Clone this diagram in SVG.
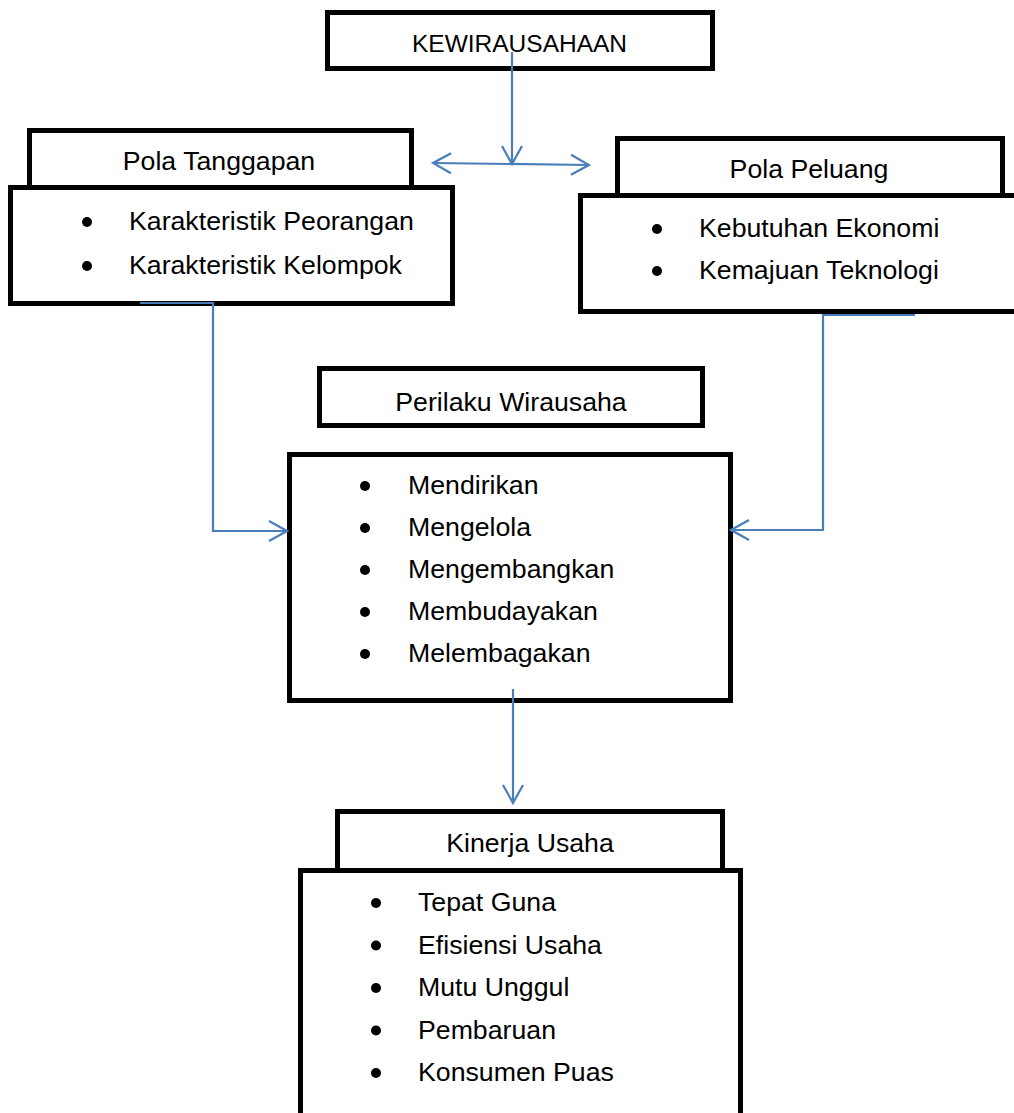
<svg xmlns="http://www.w3.org/2000/svg" width="1014" height="1113" viewBox="0 0 1014 1113">
<style>
.box{fill:#fff;stroke:#000;stroke-width:5}
.t{font-family:"Liberation Sans",Arial,sans-serif;font-size:26.7px;fill:#000}
.title{text-anchor:middle}
.caps{font-size:24.5px}
.b{fill:#000}
.c{fill:none;stroke:#4A7EBB;stroke-width:2.2}
</style>
<defs>
<marker id="arr" markerUnits="userSpaceOnUse" viewBox="-20 -12 22 24" refX="0" refY="0" markerWidth="22" markerHeight="24" orient="auto-start-reverse">
<path d="M-18,-10 L0,0 L-18,10" fill="none" stroke="#4A7EBB" stroke-width="2.2"/>
</marker>
</defs>
<rect width="1014" height="1113" fill="#fff"/>
<g id="kewirausahaan">
<rect class="box" x="327.5" y="12.5" width="385" height="56"/>
<text class="t title caps" x="519.5" y="52">KEWIRAUSAHAAN</text>
</g>
<g id="pola-tanggapan">
<rect class="box" x="29.5" y="130.5" width="382" height="70"/>
<text class="t title" x="219" y="170">Pola Tanggapan</text>
<rect class="box" x="10.5" y="187.5" width="442" height="116"/>
<circle class="b" cx="87" cy="222" r="5"/>
<text class="t" x="129" y="230">Karakteristik Peorangan</text>
<circle class="b" cx="87" cy="266" r="5"/>
<text class="t" x="129" y="274">Karakteristik Kelompok</text>
</g>
<g id="pola-peluang">
<rect class="box" x="617.5" y="138.5" width="385" height="70"/>
<text class="t title" x="809" y="178">Pola Peluang</text>
<rect class="box" x="580.5" y="195.5" width="440" height="116"/>
<circle class="b" cx="657" cy="229" r="5"/>
<text class="t" x="699" y="237">Kebutuhan Ekonomi</text>
<circle class="b" cx="657" cy="271" r="5"/>
<text class="t" x="699" y="279">Kemajuan Teknologi</text>
</g>
<g id="perilaku-wirausaha">
<rect class="box" x="319.5" y="368.5" width="383" height="57"/>
<text class="t title" x="511" y="411">Perilaku Wirausaha</text>
</g>
<g id="perilaku-list">
<rect class="box" x="289.5" y="454.5" width="441" height="246"/>
<circle class="b" cx="365" cy="486" r="5"/>
<text class="t" x="408" y="494">Mendirikan</text>
<circle class="b" cx="365" cy="528" r="5"/>
<text class="t" x="408" y="536">Mengelola</text>
<circle class="b" cx="365" cy="570" r="5"/>
<text class="t" x="408" y="578">Mengembangkan</text>
<circle class="b" cx="365" cy="612" r="5"/>
<text class="t" x="408" y="620">Membudayakan</text>
<circle class="b" cx="365" cy="654" r="5"/>
<text class="t" x="408" y="662">Melembagakan</text>
</g>
<g id="kinerja-usaha">
<rect class="box" x="337.5" y="811.5" width="385" height="70"/>
<text class="t title" x="530" y="852">Kinerja Usaha</text>
<rect class="box" x="300.5" y="870.5" width="440" height="260"/>
<circle class="b" cx="376" cy="903" r="5"/>
<text class="t" x="418" y="911">Tepat Guna</text>
<circle class="b" cx="376" cy="945.5" r="5"/>
<text class="t" x="418" y="953.5">Efisiensi Usaha</text>
<circle class="b" cx="376" cy="988" r="5"/>
<text class="t" x="418" y="996">Mutu Unggul</text>
<circle class="b" cx="376" cy="1030.5" r="5"/>
<text class="t" x="418" y="1038.5">Pembaruan</text>
<circle class="b" cx="376" cy="1073" r="5"/>
<text class="t" x="418" y="1081">Konsumen Puas</text>
</g>
<g id="connectors">
<path class="c" d="M512,52 V164" marker-end="url(#arr)"/>
<path class="c" d="M433,163 L589,165" marker-start="url(#arr)" marker-end="url(#arr)"/>
<path class="c" d="M140,303 H213 V531 H287" marker-end="url(#arr)"/>
<path class="c" d="M915,315 H823 V530 H731" marker-end="url(#arr)"/>
<path class="c" d="M513,689 V803" marker-end="url(#arr)"/>
</g>
</svg>
